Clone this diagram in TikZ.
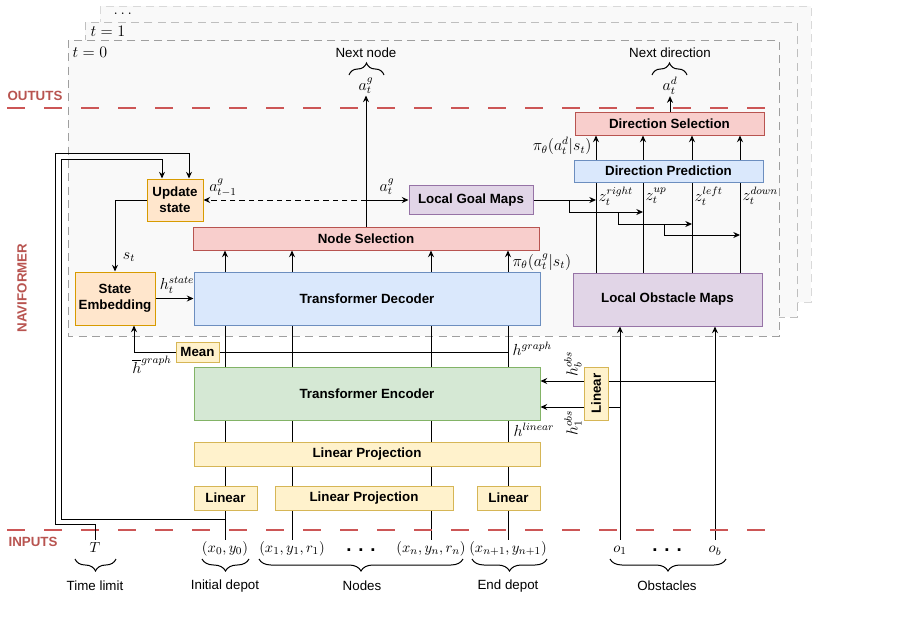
\documentclass[tikz,border=0pt]{standalone}
\usepackage{fontspec}
\setmainfont{Liberation Sans}
\usepackage{amsmath}
\usepackage{graphicx}
\usetikzlibrary{arrows.meta,decorations.pathreplacing}

\pgfdeclarelayer{frame}
\pgfdeclarelayer{wire}
\pgfsetlayers{frame,wire,main}

\tikzset{
  blk/.style={draw, line width=0.75pt, inner sep=0pt, align=center, font=\bfseries\fontsize{10}{12}\selectfont},
  orngbox/.style={blk, fill={rgb,255:red,255;green,230;blue,204}, draw={rgb,255:red,215;green,155;blue,0}},
  redbox/.style={blk, fill={rgb,255:red,248;green,206;blue,204}, draw={rgb,255:red,184;green,84;blue,80}},
  bluebox/.style={blk, fill={rgb,255:red,218;green,232;blue,252}, draw={rgb,255:red,108;green,142;blue,191}},
  purpbox/.style={blk, fill={rgb,255:red,225;green,213;blue,231}, draw={rgb,255:red,150;green,115;blue,166}},
  grnbox/.style={blk, fill={rgb,255:red,213;green,232;blue,212}, draw={rgb,255:red,130;green,179;blue,102}},
  ylwbox/.style={blk, fill={rgb,255:red,255;green,242;blue,204}, draw={rgb,255:red,214;green,182;blue,86}},
  lbl/.style={inner sep=1pt, font=\fontsize{11.5}{13}\selectfont},
  inp/.style={inner sep=1pt, text height=8.5pt, text depth=3pt, font=\fontsize{11}{13}\selectfont},
  txt/.style={inner sep=1pt, font=\fontsize{10}{12}\selectfont},
  sect/.style={inner sep=1pt, text={rgb,255:red,184;green,84;blue,80}, font=\bfseries\fontsize{10}{12}\selectfont},
  wire/.style={line width=0.75pt},
  arr/.style={wire, -{Stealth[length=5pt,width=4.5pt]}},
  brc/.style={decorate, decoration={brace, amplitude=9pt}, line width=0.75pt},
  rdash/.style={draw={rgb,255:red,204;green,86;blue,86}, line width=1pt, dash pattern=on 13.5pt off 14.25pt},
  frm/.style={fill={rgb,255:red,249;green,249;blue,249}, line width=0.75pt, dash pattern=on 6pt off 4pt},
}

\begin{document}
\begin{tikzpicture}[x=0.75pt,y=0.75pt,yscale=-1,xscale=1]
\useasboundingbox (0,0) rectangle (901,618);

%Shape: time step frames
\begin{pgfonlayer}{frame}
\draw[frm, draw=gray!30] (100,6) rectangle (811,302);
\draw[frm, draw=gray!50] (85,22) rectangle (797,317);
\draw[frm, draw=gray!75] (68,40) rectangle (779,336);
\end{pgfonlayer}
\node[lbl, anchor=west] at (112,14) {$\dots$};
\node[lbl, anchor=west] at (89,31) {$t=1$};
\node[lbl, anchor=west] at (71,52) {$t=0$};

%Straight Lines: output / input borders
\draw[rdash] (7,108) -- (779,108);
\draw[rdash] (7,530) -- (780,530);
\node[sect, anchor=west] at (6,96) {OUTUTS};
\node[sect, anchor=west] at (7,542) {INPUTS};
\node[sect, rotate=90] at (22,288) {NAVIFORMER};

%Shape: blocks
\node[orngbox, minimum width=42pt, minimum height=31.5pt] (upd) at (175,200) {Update\\state};
\node[orngbox, minimum width=60pt, minimum height=39.75pt] (emb) at (115,298.5) {State\\Embedding};
\node[redbox, minimum width=259.5pt, minimum height=17.25pt] (nsel) at (366,238.5) {Node Selection};
\node[bluebox, minimum width=259.5pt, minimum height=39.75pt] (dec) at (367,298.5) {Transformer Decoder};
\node[purpbox, minimum width=93pt, minimum height=21.75pt] (lgm) at (471,200) {Local Goal Maps};
\node[redbox, minimum width=141.75pt, minimum height=17.25pt] (dsel) at (669.5,123.5) {Direction Selection};
\node[bluebox, minimum width=141.75pt, minimum height=16.5pt] (dpred) at (668.5,171) {Direction Prediction};
\node[purpbox, minimum width=141.75pt, minimum height=39.75pt] (lom) at (667.5,299.5) {Local Obstacle Maps};
\node[ylwbox, minimum width=32.25pt, minimum height=15pt] (mean) at (197.5,352) {Mean};
\node[grnbox, minimum width=259.5pt, minimum height=39.75pt] (enc) at (367,393.5) {Transformer Encoder};
\node[ylwbox, minimum width=259.5pt, minimum height=18pt] (lproj) at (367,454) {Linear Projection};
\node[ylwbox, minimum width=47.25pt, minimum height=18pt] (lin0) at (225.5,498) {Linear};
\node[ylwbox, minimum width=133.5pt, minimum height=18pt] (lprojn) at (364,498) {Linear Projection};
\node[ylwbox, minimum width=47.25pt, minimum height=18pt] (lin1) at (508.5,498) {Linear};
\node[ylwbox, minimum width=18pt, minimum height=39.75pt] (linobs) at (596,393.5) {\rotatebox{90}{Linear}};

% Text Node: inputs
\node[inp] (T) at (95,549) {$T$};
\node[inp] (in0) at (225,549) {$(x_0,y_0)$};
\node[inp] (in1) at (292,549) {$(x_1,y_1,r_1)$};
\node[inp] (in2) at (431,549) {$(x_n,y_n,r_n)$};
\node[inp] (in3) at (508,549) {$(x_{n+1},y_{n+1})$};
\node[inp] (o1) at (620,549) {$o_1$};
\node[inp] (ob) at (715,549) {$o_b$};
\node[inner sep=0pt, font=\bfseries\fontsize{14}{14}\selectfont] at (361,550) {. . .};
\node[inner sep=0pt, font=\bfseries\fontsize{14}{14}\selectfont] at (667,550) {. . .};

%Shape: braces
\draw[brc, decoration={mirror}] (75,559) -- (116,559);
\draw[brc, decoration={mirror}] (202,559) -- (249,559);
\draw[brc, decoration={mirror}] (259,559) -- (463,559);
\draw[brc, decoration={mirror}] (472,559) -- (547,559);
\draw[brc, decoration={mirror}] (610,559) -- (726,559);
\node[txt] at (95,586) {Time limit};
\node[txt] at (225,586) {Initial depot};
\node[txt] at (362,586) {Nodes};
\node[txt] at (508,586) {End depot};
\node[txt] at (667,586) {Obstacles};

\draw[brc] (349,75) -- (384,75);
\draw[brc] (652,75) -- (687,75);
\node[txt] at (366,53) {Next node};
\node[txt] at (670,53) {Next direction};
\node[lbl] (atg) at (366,86) {$a_t^g$};
\node[lbl] (atd) at (670,86) {$a_t^d$};

%Straight Lines: columns
\foreach \dx [count=\i] in {596,643,692,740}
  \coordinate (z\i) at (\dx,0);
\begin{pgfonlayer}{wire}
\foreach \c in {in0,in1,in2,in3}
  \draw[wire] (\c.north) -- (\c.north |- dec.south);
\draw[arr] (o1.north) -- (o1.north |- lom.south);
\draw[arr] (ob.north) -- (ob.north |- lom.south);
\end{pgfonlayer}
\foreach \c in {in0,in1,in2,in3}
  \draw[arr] (\c.north |- dec.north) -- (\c.north |- nsel.south);
\foreach \i in {1,...,4}{
  \draw[wire] (z\i |- lom.north) -- (z\i |- dpred.south);
  \draw[arr] (z\i |- dpred.north) -- (z\i |- dsel.south);
}

%Straight Lines: outputs
\draw[arr] (nsel.north) -- (atg.south);
\draw[arr] (dsel.north -| atd) -- (atd.south);

%Straight Lines: goal maps to predictions
\coordinate (jg) at (366,200);
\draw[arr, dash pattern=on 4pt off 3pt] (jg) -- (upd.east);
\draw[arr] (jg) -- (lgm.west);
\coordinate (g0) at (569,200);
\coordinate (g1) at (618,212);
\coordinate (g2) at (664,224);
\coordinate (g3) at (740,235);
\draw[arr] (lgm.east) -- (z1 |- lgm.east);
\draw[arr] (g0) |- (z2 |- g1);
\draw[arr] (g1) |- (z3 |- g2);
\draw[arr] (g2) |- (g3);

%Straight Lines: state loop
\draw[arr] (upd.west) -| (emb.north);
\draw[arr] (emb.east) -- (dec.west);
\coordinate (hbar) at (134,352);
\draw[wire] (in3.north |- mean.east) -- (mean.east);
\draw[arr] (mean.west) -- (hbar) -- (hbar |- emb.south);
\coordinate (fbT) at (55,524);
\coordinate (fbT2) at (55,153);
\draw[arr] (T.north) |- (fbT) -- (fbT2) -| ([xshift=10.5pt]upd.north);
\coordinate (fbA) at (225,519);
\coordinate (fbA2) at (61,159);
\draw[arr] (fbA) -- (fbA -| fbA2) -- (fbA2) -| ([xshift=-9.75pt]upd.north);

%Straight Lines: obstacle features
\coordinate (jb) at (715,381);
\coordinate (j1) at (620,407);
\draw[wire] (jb) -- (jb -| linobs.east);
\draw[arr] (jb -| linobs.west) -- (jb -| enc.east);
\draw[wire] (j1) -- (j1 -| linobs.east);
\draw[arr] (j1 -| linobs.west) -- (j1 -| enc.east);

% Text Node: labels
\node[lbl] at (223,188) {$a_{t-1}^g$};
\node[lbl] at (387,187) {$a_t^g$};
\node[lbl, anchor=east] at (593,146) {$\pi_\theta(a_t^d|s_t)$};
\node[lbl, anchor=west] at (597,196) {$z_t^{right}$};
\node[lbl, anchor=west] at (644,196) {$z_t^{up}$};
\node[lbl, anchor=west] at (693,196) {$z_t^{left}$};
\node[lbl, anchor=west] at (741,196) {$z_t^{down}$};
\node[lbl, anchor=west] at (511,262) {$\pi_\theta(a_t^g|s_t)$};
\node[lbl, anchor=west] at (511,349) {$h^{graph}$};
\node[lbl] at (152,365) {$\overline{h}^{graph}$};
\node[lbl, anchor=west] at (512,430) {$h^{linear}$};
\node[lbl, rotate=90] at (573,364) {$h_b^{obs}$};
\node[lbl, rotate=90] at (573,423) {$h_1^{obs}$};
\node[lbl] at (177,285) {$h_t^{state}$};
\node[lbl] at (129,257) {$s_t$};

\end{tikzpicture}
\end{document}
